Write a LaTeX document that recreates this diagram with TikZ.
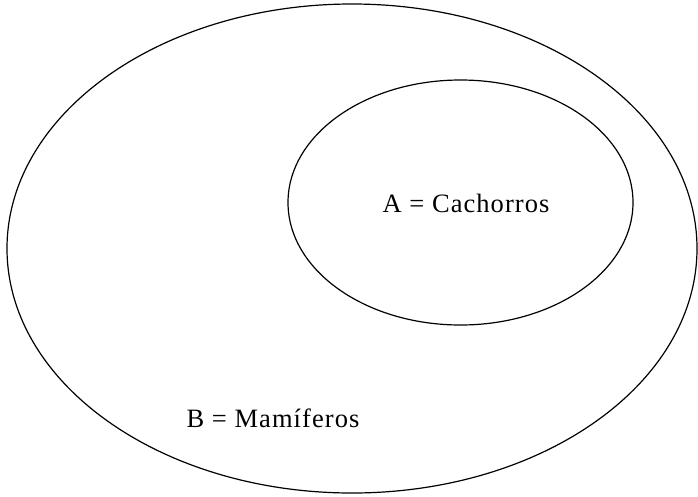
\documentclass[tikz,border=0pt]{standalone}
\usepackage{fontspec}
\setmainfont{Liberation Serif}[LetterSpace=4]
\usetikzlibrary{shapes.geometric}
\begin{document}
\begin{tikzpicture}[x=1pt,y=-1pt,
  setline/.style={draw=black, line width=1.2pt},
  lbl/.style={font=\fontsize{26.5}{30}\selectfont, inner sep=0pt, anchor=base}]
\useasboundingbox (0,0) rectangle (698,496);
\node[setline, ellipse, minimum width=690, minimum height=489, inner sep=0pt] (B) at (352,248.5) {};
\node[setline, ellipse, minimum width=345, minimum height=245, inner sep=0pt] (A) at (460.5,202.5) {};
\node[lbl] (la) at (466,212) {A = Cachorros};
\node[lbl] (lb) at (273,427) {B = Mamíferos};
\end{tikzpicture}
\end{document}
